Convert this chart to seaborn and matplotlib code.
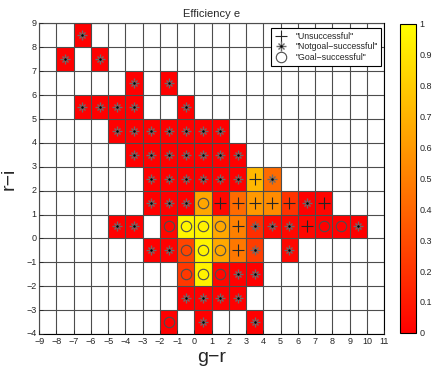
import numpy as np
import pandas as pd
import matplotlib
matplotlib.use('Agg')
import matplotlib.pyplot as plt
import seaborn as sns

sns.set_style('white')
plt.rcParams['font.family'] = ['Liberation Sans', 'DejaVu Sans']

# cell lower-left corners (g-r, r-i), efficiency, outcome
# U = unsuccessful (+), N = notgoal-successful (*), G = goal-successful (o)
cell_x = [-7,
          -8, -6,
          -4, -2,
          -7, -6, -5, -4, -1,
          -5, -4, -3, -2, -1, 0, 1,
          -4, -3, -2, -1, 0, 1, 2,
          -3, -2, -1, 0, 1, 2, 3, 4,
          -3, -2, -1, 0, 1, 2, 3, 4, 5, 6, 7,
          -5, -4, -2, -1, 0, 1, 2, 3, 4, 5, 6, 7, 8, 9,
          -3, -2, -1, 0, 1, 2, 3, 5,
          -1, 0, 1, 2, 3,
          -1, 0, 1, 2,
          -2, 0, 3]
cell_y = [8,
          7, 7,
          6, 6,
          5, 5, 5, 5, 5,
          4, 4, 4, 4, 4, 4, 4,
          3, 3, 3, 3, 3, 3, 3,
          2, 2, 2, 2, 2, 2, 2, 2,
          1, 1, 1, 1, 1, 1, 1, 1, 1, 1, 1,
          0, 0, 0, 0, 0, 0, 0, 0, 0, 0, 0, 0, 0, 0,
          -1, -1, -1, -1, -1, -1, -1, -1,
          -2, -2, -2, -2, -2,
          -3, -3, -3, -3,
          -4, -4, -4]
efficiency = [0,
              0, 0,
              0, 0,
              0, 0, 0, 0, 0,
              0, 0, 0, 0, 0, 0, 0,
              0, 0, 0, 0, 0, 0, 0,
              0, 0, 0, 0, 0, 0, 0.72, 0.42,
              0, 0, 0, 0.65, 0.03, 0.42, 0.6, 0.55, 0.2, 0, 0.02,
              0, 0, 0.03, 0.96, 0.95, 0.66, 0.5, 0.18, 0.03, 0.03, 0.03, 0, 0, 0,
              0, 0, 0.27, 0.95, 0.66, 0.47, 0.24, 0.03,
              0.22, 0.95, 0.03, 0, 0,
              0, 0, 0, 0,
              0, 0, 0]
outcome = ['N',
           'N', 'N',
           'N', 'N',
           'N', 'N', 'N', 'N', 'N',
           'N', 'N', 'N', 'N', 'N', 'N', 'N',
           'N', 'N', 'N', 'N', 'N', 'N', 'N',
           'N', 'N', 'N', 'N', 'N', 'N', 'U', 'N',
           'N', 'N', 'N', 'G', 'U', 'U', 'U', 'U', 'U', 'N', 'U',
           'N', 'N', 'G', 'G', 'G', 'G', 'U', 'N', 'N', 'N', 'U', 'G', 'G', 'N',
           'N', 'N', 'G', 'G', 'G', 'U', 'N', 'N',
           'G', 'G', 'G', 'N', 'N',
           'N', 'N', 'N', 'N',
           'G', 'N', 'N']

x_ticks = list(range(-9, 12))
y_ticks = list(range(9, -5, -1))

cols = np.arange(-9, 11)
rows = np.arange(8, -5, -1)
grid = pd.DataFrame(np.nan, index=rows, columns=cols)
for gx, gy, e in zip(cell_x, cell_y, efficiency):
    grid.loc[gy, gx] = e

fig = plt.figure(figsize=(4.36, 3.67), dpi=100)
ax = fig.add_axes([0.090, 0.090, 0.791, 0.846])
cax = fig.add_axes([0.917, 0.093, 0.038, 0.842])

sns.heatmap(grid, cmap='autumn', vmin=0, vmax=1, ax=ax, cbar_ax=cax,
            linewidths=0.6, linecolor='0.45')

for s in ax.spines.values():
    s.set_visible(True)
    s.set_color('black')
    s.set_linewidth(0.8)

ax.set_xticks(np.arange(len(x_ticks)))
ax.set_xticklabels([str(t).replace('-', '\u2212') for t in x_ticks], rotation=0)
ax.set_yticks(np.arange(len(y_ticks)))
ax.set_yticklabels([str(t).replace('-', '\u2212') for t in y_ticks], rotation=0)
ax.tick_params(labelsize=6.5, direction='in', length=3, width=0.6,
               bottom=True, left=True, pad=2)
ax.grid(True, color='0.3', linewidth=0.8)
ax.set_axisbelow(False)

px = grid.columns.get_indexer(cell_x) + 0.5
py = grid.index.get_indexer(cell_y) + 0.5
kind = np.array(outcome)

u, = ax.plot(px[kind == 'U'], py[kind == 'U'], linestyle='none', marker='+',
             ms=8, mew=0.8, color='0.15', zorder=4)
n1, = ax.plot(px[kind == 'N'], py[kind == 'N'], linestyle='none', marker='+',
              ms=6.8, mew=1.0, color='0.42', zorder=4)
n2, = ax.plot(px[kind == 'N'], py[kind == 'N'], linestyle='none', marker='x',
              ms=4.8, mew=1.0, color='0.42', zorder=4)
n3, = ax.plot(px[kind == 'N'], py[kind == 'N'], linestyle='none', marker='o',
              ms=1.8, mew=0, color='black', zorder=5)
g, = ax.plot(px[kind == 'G'], py[kind == 'G'], linestyle='none', marker='o',
             ms=7.5, mew=0.8, mfc='none', mec='0.3', zorder=4)

leg = ax.legend([u, (n1, n2, n3), g],
                ['"Unsuccessful"', '"Notgoal\u2212successful"', '"Goal\u2212successful"'],
                loc='upper right', bbox_to_anchor=(0.992, 0.985), borderaxespad=0,
                fontsize=6.3, frameon=True, fancybox=False, framealpha=1,
                edgecolor='black', handlelength=1.6, handletextpad=0.8,
                labelspacing=0.2, borderpad=0.4)
leg.get_frame().set_linewidth(0.8)

ax.set_title('Efficiency e', fontsize=8, pad=5)
ax.set_xlabel('g\u2212r', fontsize=14, labelpad=2)
ax.set_ylabel('r\u2212i', fontsize=14, labelpad=6)

cb = ax.collections[0].colorbar
cb.outline.set_linewidth(0.8)
cb.outline.set_edgecolor('black')
cb.set_ticks(np.arange(0, 1.01, 0.1))
cb.set_ticklabels(['0', '0.1', '0.2', '0.3', '0.4', '0.5', '0.6', '0.7', '0.8', '0.9', '1'])
cax.tick_params(labelsize=6.5, direction='in', length=3, width=0.6, pad=2)

fig.savefig('out.png', dpi=100)
